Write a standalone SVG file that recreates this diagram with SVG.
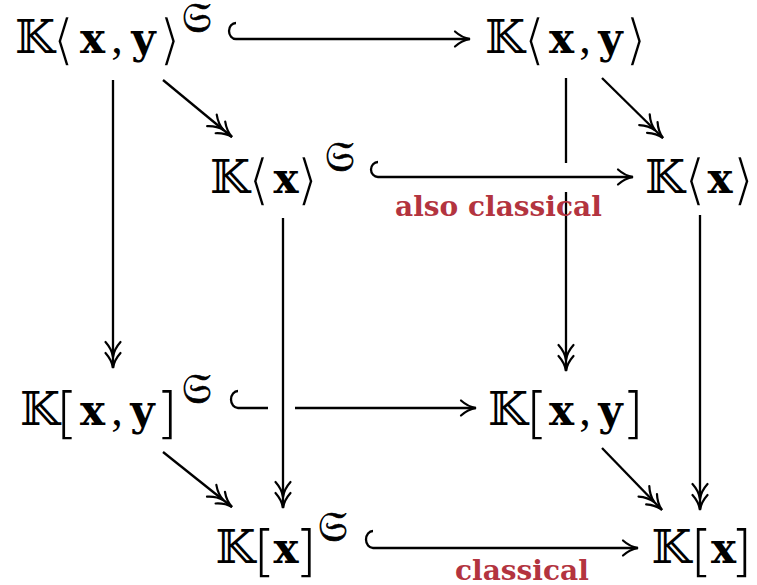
<svg xmlns="http://www.w3.org/2000/svg" width="757" height="585" viewBox="0 0 757 585">
<style>
.n{font-family:"Liberation Serif",serif;font-size:46px;fill:#000;text-anchor:middle}
.bb{font-family:"DejaVu Serif","DejaVu Sans",serif;font-size:46px}
.an{font-family:"DejaVu Serif","DejaVu Sans",serif;font-size:56px;stroke:#fff;stroke-width:2;paint-order:fill stroke}
.sq{font-family:"DejaVu Sans",sans-serif;font-weight:200;font-size:56px}
.bf{font-family:"DejaVu Serif",serif;font-weight:bold;font-size:42px}
.sup{font-family:"DejaVu Serif","DejaVu Sans",serif;font-size:42px;stroke:#000;stroke-width:0.7}
.lbl{font-family:"DejaVu Serif",serif;font-weight:bold;font-size:28px;fill:#b3343f}
.c{fill:none;stroke:#000;stroke-width:2.3}
</style>
<defs>
<marker id="h1" markerUnits="userSpaceOnUse" overflow="visible" orient="auto" refX="0" refY="0" markerWidth="1" markerHeight="1">
<path d="M-15,-7.5 C-10,-3 -4,-0.6 0,0 C-4,0.6 -10,3 -15,7.5" fill="none" stroke="#000" stroke-width="2.2" stroke-linecap="round"/>
</marker>
<marker id="h2" markerUnits="userSpaceOnUse" overflow="visible" orient="auto" refX="0" refY="0" markerWidth="1" markerHeight="1">
<path d="M-15,-7.5 C-10,-3 -4,-0.6 0,0 C-4,0.6 -10,3 -15,7.5 M-26,-7.5 C-21,-3 -15,-0.6 -11,0 C-15,0.6 -21,3 -26,7.5" fill="none" stroke="#000" stroke-width="2.2" stroke-linecap="round"/>
</marker>
</defs>
<g id="connectors">
<path class="c" d="M236,23 A7,8 0 0 0 236,39 L470,39" marker-end="url(#h1)"/>
<path class="c" d="M378,162 A7,7.5 0 0 0 378,177 L633,177" marker-end="url(#h1)"/>
<path class="c" d="M238,391 A7,8.5 0 0 0 238,408 L268,408"/>
<path class="c" d="M295,408 L476,408" marker-end="url(#h1)"/>
<path class="c" d="M373,531 A7,8.5 0 0 0 373,548 L638,548" marker-end="url(#h1)"/>
<path class="c" d="M113,80 L113,368" marker-end="url(#h2)"/>
<path class="c" d="M566,78 L566,163"/>
<path class="c" d="M566,192 L566,371" marker-end="url(#h2)"/>
<path class="c" d="M283,218 L283,508" marker-end="url(#h2)"/>
<path class="c" d="M700,215 L700,510" marker-end="url(#h2)"/>
<path class="c" d="M163,80 L232,137" marker-end="url(#h2)"/>
<path class="c" d="M602,78 L663,138" marker-end="url(#h2)"/>
<path class="c" d="M163,452 L232,507" marker-end="url(#h2)"/>
<path class="c" d="M602,448 L662,510" marker-end="url(#h2)"/>
</g>
<g id="A"><text class="n" y="53"><tspan class="bb" x="35">𝕂</tspan><tspan class="an" x="63.5" y="59">⟨</tspan><tspan class="bf" x="92.5" y="53">x</tspan><tspan x="117">,</tspan><tspan class="bf" x="143.5">y</tspan><tspan class="an" x="170" y="59">⟩</tspan><tspan class="sup" x="196" y="32">𝔖</tspan></text></g>
<g id="B"><text class="n" y="53"><tspan class="bb" x="505">𝕂</tspan><tspan class="an" x="534.5" y="59">⟨</tspan><tspan class="bf" x="561.5" y="53">x</tspan><tspan x="585">,</tspan><tspan class="bf" x="610.5">y</tspan><tspan class="an" x="636" y="59">⟩</tspan></text></g>
<g id="C"><text class="n" y="193"><tspan class="bb" x="230">𝕂</tspan><tspan class="an" x="259" y="199">⟨</tspan><tspan class="bf" x="286" y="193">x</tspan><tspan class="an" x="307.5" y="199">⟩</tspan><tspan class="sup" x="339" y="171">𝔖</tspan></text></g>
<g id="D"><text class="n" y="193"><tspan class="bb" x="665">𝕂</tspan><tspan class="an" x="695" y="199">⟨</tspan><tspan class="bf" x="720" y="193">x</tspan><tspan class="an" x="743.5" y="199">⟩</tspan></text></g>
<g id="E"><text class="n" y="425"><tspan class="bb" x="40">𝕂</tspan><tspan class="sq" x="67" y="432">[</tspan><tspan class="bf" x="92.5" y="425">x</tspan><tspan x="117">,</tspan><tspan class="bf" x="142.5">y</tspan><tspan class="sq" x="167" y="432">]</tspan><tspan class="sup" x="196" y="403">𝔖</tspan></text></g>
<g id="F"><text class="n" y="425"><tspan class="bb" x="508">𝕂</tspan><tspan class="sq" x="537" y="432">[</tspan><tspan class="bf" x="561.5" y="425">x</tspan><tspan x="585">,</tspan><tspan class="bf" x="610.5">y</tspan><tspan class="sq" x="633" y="432">]</tspan></text></g>
<g id="G"><text class="n" y="563"><tspan class="bb" x="235.5">𝕂</tspan><tspan class="sq" x="264.5" y="570">[</tspan><tspan class="bf" x="286" y="563">x</tspan><tspan class="sq" x="306" y="570">]</tspan><tspan class="sup" x="332" y="541">𝔖</tspan></text></g>
<g id="H"><text class="n" y="563"><tspan class="bb" x="671.5">𝕂</tspan><tspan class="sq" x="701.5" y="570">[</tspan><tspan class="bf" x="723.5" y="563">x</tspan><tspan class="sq" x="741.5" y="570">]</tspan></text></g>
<g id="labels">
<text class="lbl" x="395" y="216">also classical</text>
<text class="lbl" x="455" y="580">classical</text>
</g>
</svg>
